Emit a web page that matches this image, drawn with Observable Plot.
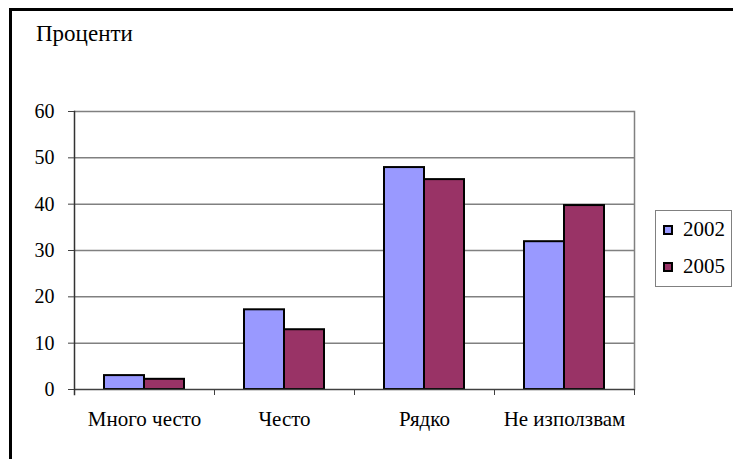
<!DOCTYPE html>
<html>
<head>
<meta charset="utf-8">
<script src="https://cdn.jsdelivr.net/npm/d3@7"></script>
<script src="https://cdn.jsdelivr.net/npm/@observablehq/plot@0.6"></script>
<style>
  html, body { margin: 0; padding: 0; background: #fff; }
  #wrap { position: relative; width: 733px; height: 459px; overflow: hidden; font-family: "Liberation Serif", "Times New Roman", serif; }
  #border { position: absolute; left: 9px; top: 8px; width: 800px; height: 500px; border-top: 3px solid #000; border-left: 3px solid #000; box-sizing: border-box; }
  #title { position: absolute; left: 36px; top: 22px; font-size: 23px; color: #000; line-height: 1; }
  #legend { position: absolute; left: 655px; top: 210px; width: 77px; height: 77px; border: 1px solid #808080; box-sizing: border-box; background: #fff; }
  .sw { position: absolute; left: 7px; width: 10px; height: 10px; border: 2px solid #000; box-sizing: border-box; }
  .lbl { position: absolute; left: 27px; font-size: 21px; line-height: 1; color: #000; white-space: nowrap; }
  #chart { position: absolute; left: 0; top: 0; }
</style>
</head>
<body>
<div id="wrap">
  <div id="chart"></div>
  <div id="border"></div>
  <div id="title"></div>
  <div id="legend"></div>
</div>
<script>
const categories = ["Много често", "Често", "Рядко", "Не използвам"];
const years = ["2002", "2005"];
const values2002 = [3, 17.2, 47.9, 31.9];
const values2005 = [2.2, 12.9, 45.3, 39.7];
const yTicks = [0, 10, 20, 30, 40, 50, 60];
const colors = ["#9999FF", "#993366"];
const titleText = "Проценти";

const data = [];
categories.forEach((c, i) => {
  data.push({category: c, year: years[0], value: values2002[i]});
  data.push({category: c, year: years[1], value: values2005[i]});
});

const font = "'Liberation Serif', 'Times New Roman', serif";

const plot = Plot.plot({
  width: 733,
  height: 459,
  marginLeft: 74,
  marginRight: 99,
  marginTop: 111,
  marginBottom: 70,
  style: {fontFamily: font, fontSize: "20px", color: "#000", background: "transparent"},
  x: {domain: categories, padding: 0, label: null},
  y: {domain: [0, 60], label: null},
  color: {domain: years, range: colors},
  marks: [
    Plot.ruleY(yTicks.filter(d => d > 0), {stroke: "#808080", strokeWidth: 1.5}),
    Plot.frame({anchor: "right", stroke: "#808080", strokeWidth: 1.5}),
    Plot.barY(data.filter(d => d.year === years[0]), {x: "category", y: "value", fill: "year", stroke: "#000", strokeWidth: 2, insetLeft: 30, insetRight: 70}),
    Plot.barY(data.filter(d => d.year === years[1]), {x: "category", y: "value", fill: "year", stroke: "#000", strokeWidth: 2, insetLeft: 70, insetRight: 30}),
    Plot.ruleY([0], {stroke: "#404040", strokeWidth: 1.5}),
    Plot.frame({anchor: "left", stroke: "#333", strokeWidth: 1.5, insetBottom: -5}),
    Plot.axisY({ticks: yTicks, tickSize: 6, tickPadding: 14, stroke: "#404040", fontSize: 20, fill: "#000"}),
    Plot.axisX({tickSize: 6, dx: 70, tickFormat: () => "", stroke: "#404040"}),
    Plot.axisX({tickSize: 0, tickPadding: 22, fontSize: 21, fill: "#000"})
  ]
});
document.getElementById("chart").appendChild(plot);

document.getElementById("title").textContent = titleText;
const legend = document.getElementById("legend");
years.forEach((y, i) => {
  const sw = document.createElement("div");
  sw.className = "sw";
  sw.style.top = (14 + i * 37) + "px";
  sw.style.background = colors[i];
  const lbl = document.createElement("div");
  lbl.className = "lbl";
  lbl.style.top = (8 + i * 37) + "px";
  lbl.textContent = y;
  legend.appendChild(sw);
  legend.appendChild(lbl);
});
</script>
</body>
</html>
